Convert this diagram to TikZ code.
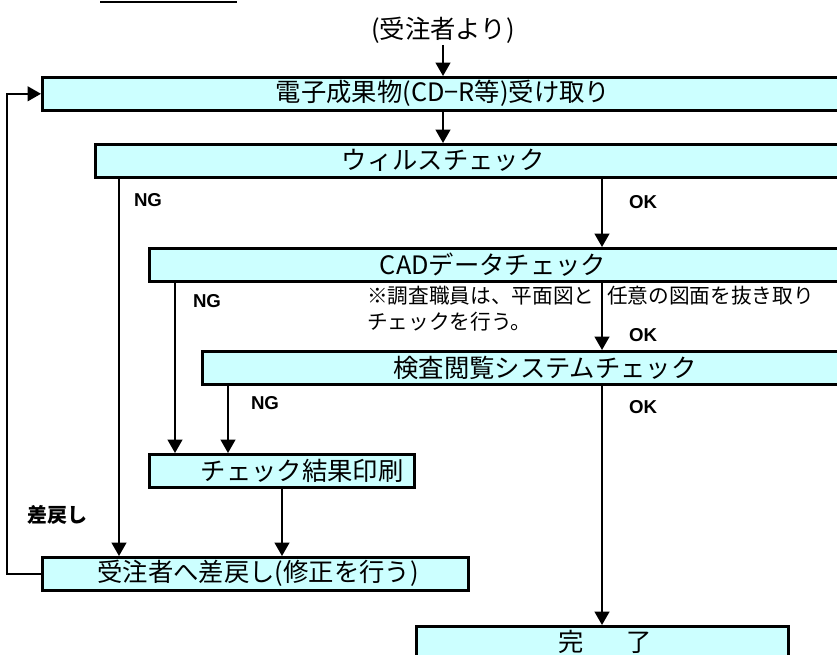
\documentclass[tikz,border=0pt]{standalone}
\usepackage{fontspec}
\setmainfont{Noto Sans CJK JP}
\newfontfamily\labfont{Liberation Sans}
\usetikzlibrary{arrows.meta}
\definecolor{boxcyan}{HTML}{CCFFFF}

\begin{document}
\begin{tikzpicture}[x=0.75pt,y=-0.75pt,
  stepbox/.style={draw,fill=boxcyan,line width=2.2pt,rectangle,anchor=north west,inner sep=0pt,minimum height=24.5pt},
  boxtext/.style={font=\fontsize{19}{21}\selectfont,inner sep=1pt},
  flow/.style={line width=1.5pt,-{Triangle[width=11pt,length=10pt]}},
  tag/.style={font=\labfont\bfseries\fontsize{14}{16}\selectfont}]
\useasboundingbox (0,0) rectangle (837,654);
\clip (0,0) rectangle (837,654);

% columns of the connectors
\coordinate (inx) at (443,0);
\coordinate (okx) at (602,0);
\coordinate (nga) at (119,0);
\coordinate (ngb) at (175,0);
\coordinate (ngc) at (228,0);
\coordinate (prx) at (282,0);

\draw[line width=1.2pt] (100,2) -- (237,2);

\node[boxtext] (src) at (443,30) {(受注者より)};

\node[stepbox,minimum width=614pt] (b1) at (41,76) {};
\node[stepbox,minimum width=574.5pt] (b2) at (94,143) {};
\node[stepbox,minimum width=534pt] (b3) at (148,247) {};
\node[stepbox,minimum width=494pt] (b4) at (201,350) {};
\node[stepbox,minimum width=199pt] (b6) at (148,453) {};
\node[stepbox,minimum width=319.5pt] (b5) at (41,556) {};
\node[stepbox,minimum width=279pt] (b7) at (415,625) {};

\node[boxtext] (t1) at (443,93.5) {電子成果物(CD−R等)受け取り};
\node[boxtext] (t2) at (443,160.5) {ウィルスチェック};
\node[boxtext] (t3) at (493,265) {CADデータチェック};
\node[boxtext] (t4) at (545,368) {検査閲覧システムチェック};
\node[boxtext] (t6) at (302,470.5) {チェック結果印刷};
\node[boxtext] (t5) at (258,573.5) {受注者へ差戻し(修正を行う)};
\node[boxtext] (t7) at (605,642) {完\hspace{1.7em}了};

\node[anchor=west,align=left,inner sep=0pt,font=\fontsize{15.5}{20}\selectfont] (note) at (367,308.5) {※調査職員は、平面図と\hspace{0.6em}任意の図面を抜き取り\\チェックを行う。};

\node[tag] (ng1) at (148,200) {NG};
\node[tag] (ok1) at (643,202) {OK};
\node[tag] (ng2) at (207,301) {NG};
\node[tag] (ok2) at (643,335) {OK};
\node[tag] (ng3) at (265,403) {NG};
\node[tag] (ok3) at (643,407) {OK};
\node[font=\bfseries\fontsize{15}{17}\selectfont] (back) at (57,515) {差戻し};

\draw[flow] (src) -- (b1.north -| inx);
\draw[flow] (b1.south -| inx) -- (b2.north -| inx);
\draw[flow] (b2.south -| okx) -- (b3.north -| okx);
\draw[flow] (b3.south -| okx) -- (b4.north -| okx);
\draw[flow] (b4.south -| okx) -- (b7.north -| okx);
\draw[flow] (b2.south -| nga) -- (b5.north -| nga);
\draw[flow] (b3.south -| ngb) -- (b6.north -| ngb);
\draw[flow] (b4.south -| ngc) -- (b6.north -| ngc);
\draw[flow] (b6.south -| prx) -- (b5.north -| prx);
\draw[flow] (b5.west) -- ++(-34,0) |- (b1.west);
\end{tikzpicture}
\end{document}
